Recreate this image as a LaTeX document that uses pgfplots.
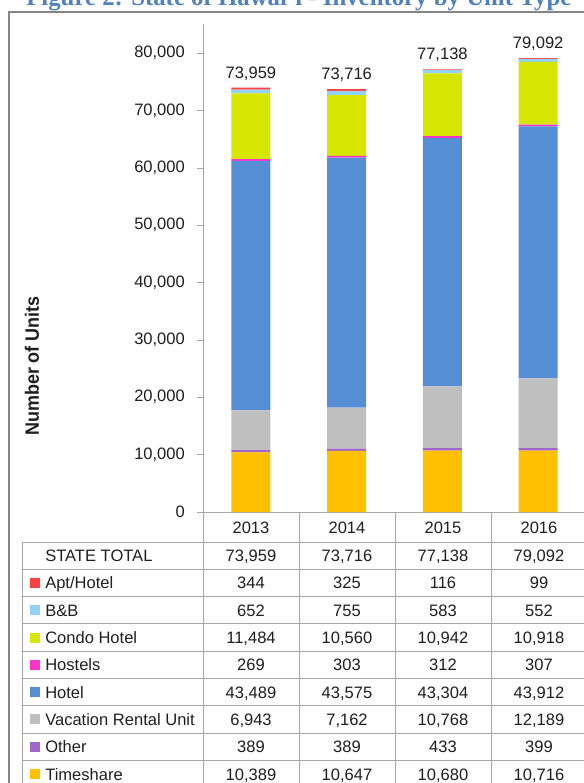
\documentclass[border=0pt]{standalone}
\usepackage{graphicx}
\usepackage{pgfplots}
\pgfplotsset{compat=1.18}
\usepackage{fontspec}
\setmainfont{Liberation Sans}
\newfontfamily\titlefont{Liberation Serif}

\definecolor{tshare}{HTML}{FFC000}
\definecolor{other}{HTML}{A066CC}
\definecolor{vru}{HTML}{BFBFBF}
\definecolor{hotel}{HTML}{558ED5}
\definecolor{hostel}{HTML}{FF33CC}
\definecolor{condo}{HTML}{D7E600}
\definecolor{bnb}{HTML}{92D3F5}
\definecolor{apt}{HTML}{FF4040}
\definecolor{linegray}{HTML}{A6A6A6}
\definecolor{framegray}{HTML}{858585}
\definecolor{titleblue}{HTML}{4F81BD}
\definecolor{txt}{HTML}{1E1E1E}

\newcommand\tf{\fontsize{12.4pt}{14pt}\selectfont}

% one row of the data table: index, name, colour, four values
\newcommand\tabrow[7]{%
  \pgfmathsetmacro\ry{542+27.3*(#1+0.5)}
  \fill[#3] (30,\ry-5) rectangle (40,\ry+5);
  \node[anchor=base west, inner sep=0] at (45,\ry+6) {#2};
  \node[anchor=base, inner sep=0] at (251,\ry+6) {#4};
  \node[anchor=base, inner sep=0] at (347,\ry+6) {#5};
  \node[anchor=base, inner sep=0] at (443,\ry+6) {#6};
  \node[anchor=base, inner sep=0] at (539,\ry+6) {#7};
}

\begin{document}
\begin{tikzpicture}[x=0.75pt, y=-0.75pt, font=\tf, text=txt]
\useasboundingbox (0,0) rectangle (584,783);
\clip (0,0) rectangle (584,783);

% title, cut at the top as in the screenshot
\node[anchor=base west, inner sep=0, text=titleblue] at (26,5)
  {\resizebox{408.75pt}{!}{\titlefont\bfseries Figure 2: State of Hawai‘i - Inventory by Unit Type}};

% outer frame
\draw[framegray, line width=1.5pt] (9.3,800) -- (9.3,11.7) -- (600,11.7);

\coordinate (org) at (203,512);
\begin{axis}[
    at={(org)}, anchor=south west, scale only axis,
    width=287.25pt, height=365.8pt,
    ybar stacked, bar width=29.25pt,
    xmin=-0.5, xmax=3.5, ymin=0, ymax=85000,
    axis lines=left, axis line style={-, draw=linegray},
    xtick=\empty, ytick={0,10000,...,80000},
    tick align=outside, major tick length=4.5pt, tick style={linegray},
    scaled y ticks=false,
    /pgf/number format/1000 sep={,},
    /pgf/number format/assume math mode=true,
    yticklabel style={font=\tf, text=txt, xshift=-5.6pt},
    clip=false,
]
\addplot[fill=tshare, draw=none] coordinates {(0,10389) (1,10647) (2,10680) (3,10716)};
\addplot[fill=other, draw=none] coordinates {(0,389) (1,389) (2,433) (3,399)};
\addplot[fill=vru, draw=none] coordinates {(0,6943) (1,7162) (2,10768) (3,12189)};
\addplot[fill=hotel, draw=none] coordinates {(0,43489) (1,43575) (2,43304) (3,43912)};
\addplot[fill=hostel, draw=none] coordinates {(0,269) (1,303) (2,312) (3,307)};
\addplot[fill=condo, draw=none] coordinates {(0,11484) (1,10560) (2,10942) (3,10918)};
\addplot[fill=bnb, draw=none] coordinates {(0,652) (1,755) (2,583) (3,552)};
\addplot[fill=apt, draw=none, point meta=explicit,
    nodes near coords={\pgfmathprintnumber[fixed,precision=0,1000 sep={,},assume math mode=true]{\pgfplotspointmeta}},
    every node near coord/.append style={font=\tf, text=txt, anchor=base, inner sep=0pt, yshift=7.5pt}]
    coordinates {(0,344) [73959] (1,325) [73716] (2,116) [77138] (3,99) [79092]};
\end{axis}

% y label
\node[rotate=90, font=\bfseries\fontsize{14.5pt}{16pt}\selectfont] at (32,366)
  {\scalebox{0.93}[1]{Number of Units}};

% table grid
\begin{scope}[linegray, line width=0.75pt]
  \foreach \xx in {203,299,395,491,587} \draw (\xx,512) -- (\xx,800);
  \draw (22.7,542) -- (22.7,800);
  \foreach \k in {0,...,9} \draw (22.7,542+27.3*\k) -- (600,542+27.3*\k);
\end{scope}

% header row
\node[anchor=base, inner sep=0] at (251,533) {2013};
\node[anchor=base, inner sep=0] at (347,533) {2014};
\node[anchor=base, inner sep=0] at (443,533) {2015};
\node[anchor=base, inner sep=0] at (539,533) {2016};

\tabrow{0}{STATE TOTAL}{white}{73,959}{73,716}{77,138}{79,092}
\tabrow{1}{Apt/Hotel}{apt}{344}{325}{116}{99}
\tabrow{2}{B\&B}{bnb}{652}{755}{583}{552}
\tabrow{3}{Condo Hotel}{condo}{11,484}{10,560}{10,942}{10,918}
\tabrow{4}{Hostels}{hostel}{269}{303}{312}{307}
\tabrow{5}{Hotel}{hotel}{43,489}{43,575}{43,304}{43,912}
\tabrow{6}{Vacation Rental Unit}{vru}{6,943}{7,162}{10,768}{12,189}
\tabrow{7}{Other}{other}{389}{389}{433}{399}
\tabrow{8}{Timeshare}{tshare}{10,389}{10,647}{10,680}{10,716}
\end{tikzpicture}
\end{document}
